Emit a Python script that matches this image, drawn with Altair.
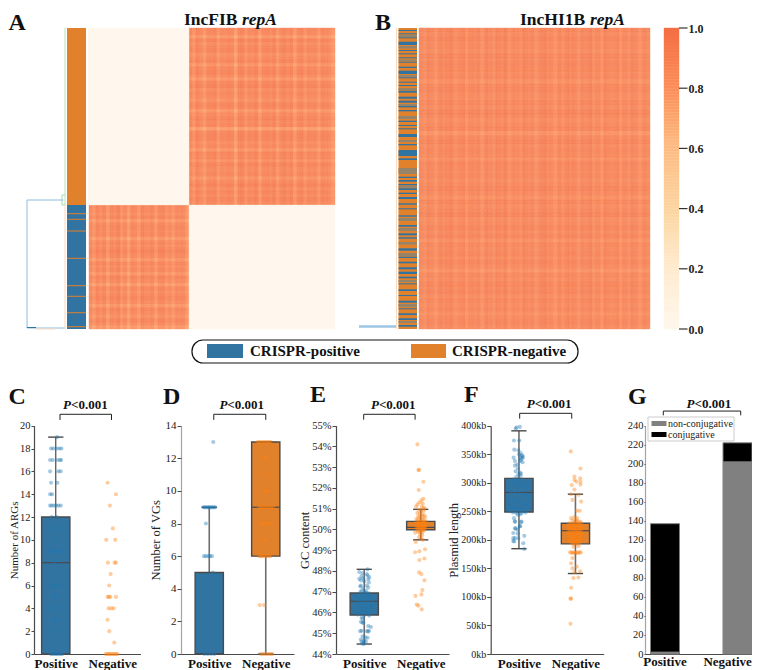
import altair as alt
import pandas as pd

W, H = 744, 662
SERIF = "Liberation Serif"
BLUE, ORANGE = "#3274a1", "#e1812c"
PT_BLUE, PT_ORANGE = "#1f77b4", "#ff7f0e"
EDGE = "#4a4a4a"
HEAT_DOMAIN = [0, 0.2, 0.4, 0.6, 0.8, 1.0]
HEAT_RANGE = ["#fff7ec", "#feebcf", "#fdd49e", "#fdbb84", "#fc8d59", "#f46d43"]
HEAT_SCALE = alt.Scale(domain=HEAT_DOMAIN, range=HEAT_RANGE, zero=False, nice=False)

# ---------- heatmap A band strengths ----------
A_rows_top = [.97,.95,.86,.98,.93,.96,.99,.90,.95,.97,.88,.96,.98,.94,.86,.97,.99,.93,.96,.95,.89,.98,.96,.86,.94,
              .98,.95,.97,.82,.96,.99,.97,.93,.95,.87,.97,.96,.90,.98,.95,.94,.97,.88,.96,.99,.94,.97,.95,.98,.96]
A_cols_right = [.96,.88,.98,.94,.85,.97,.95,.99,.86,.96,.93,.98,.95,.82,.97,.99,.88,.96,.94,.98,.84,.95,
                .97,.93,.99,.86,.96,.98,.94,.97,.85,.95,.99,.88,.97,.94,.96,.86,.98,.95,.93,.85]
A_rows_bottom = [.98,.96,.93,.97,.87,.95,.98,.94,.97,.85,.96,.93,.98,.99,.95,.87,.97,.94,.96,.88,.98,.95,.85,.97,.93,
                 .96,.99,.94,.86,.97,.95,.89,.98,.94,.86]
A_cols_left = [.95,.87,.97,.93,.98,.85,.96,.94,.99,.88,.96,.82,.97,.94,.86,.98,.95,.93,.97,.85,.96,.99,.88,.95,.86,.97,.94,.96,.85]
# ---------- heatmap B band strengths ----------
B_rows = [.97,.95,.98,.94,.96,.93,.97,.95,.98,.96,.94,.97,.90,.96,.98,.95,.93,.97,.94,.98,.96,.93,.95,.97,.88,
          .96,.98,.94,.97,.95,.90,.98,.96,.94,.97,.93,.95,.98,.96,.90,.97,.94,.96,.98,.93,.95,.97,.94,.98,.90,
          .96,.95,.97,.93,.98,.95,.88,.96,.94,.97,.95,.98,.93,.96,.94,.97,.90,.95,.98,.94]
B_cols = [.96,.91,.98,.95,.89,.97,.94,.96,.99,.91,.95,.98,.89,.96,.94,.97,.88,.98,.95,.91,.97,.94,.99,.89,.96,.95,.91,.98,.94,.97,
          .89,.96,.99,.94,.95,.88,.97,.91,.98,.95,.96,.89,.97,.94,.99,.91,.96,.88,.98,.95,.94,.97,.89,.96,.91,.98,.95,.88,.97,.94]
LOW_VALUE = 0.0

# ---------- annotation strips (row spans out of 301 rows) ----------
A_blue_block = (177, 301)
A_orange_lines = [185.7, 191.3, 203, 230.3, 257.7, 268.3, 284.7, 298.7]
B_blue = [(2,3),(5.3,6.3),(9.3,10.3),(13.7,17),(22,23),(25.3,26.3),(29.3,30.3),(33.7,34.7),(38.7,40),(42.7,46),(49.3,50.3),
          (53.7,54.7),(57,58),(62.7,64.7),(68.7,70.7),(72.7,74.7),(78,79.3),(82,83.3),(92.7,94),(97,98),(100.3,101.3),(106,109),
          (116,117.3),(122,128),(130.3,132),(148.7,150),(152,153.7),(156,157.3),(160.3,162),(164.7,166),(169,171),(175.3,176.7),
          (180.3,181.3),(187.3,188.7),(197,198.7),(205.3,207.3),(209.3,210.7),(220.3,222.7),(228.7,230),(233.7,235.3),(239.3,241.3),
          (243.7,246),(248.7,250.3),(255.3,256.3),(261.3,263),(267,268),(272.7,274.7),(280.3,281.3),(285.3,287),(290.3,292),(297,298.7)]
B_mixed = [(7,9),(18,20.5),(31.5,33),(47,49),(60,62),(76,78),(88,91),(112,114),(140,146),
           (158,160),(190,193),(200,203),(214,216.5),(225,228),(252,254),(276,279),(293,295)]

# ---------- box statistics: q1, median, q3, low, high ----------
C_stats = {"Positive": (0, 8, 12, 0, 19), "Negative": (0, 0, 0, 0, 0)}
D_stats = {"Positive": (0, 0, 5, 0, 9), "Negative": (6, 9, 13, 0, 13)}
E_stats = {"Positive": (45.88, 46.54, 46.94, 44.48, 48.08), "Negative": (49.99, 50.1, 50.39, 49.5, 50.97)}
F_stats = {"Positive": (248.8, 283, 307.7, 184.5, 391), "Negative": (193, 216, 229, 141, 280)}

# ---------- jittered points: (horizontal jitter, value) ----------
C_pos = [(4,19),(-14,18),(-7,18),(3,18),(11,18),(17,18),(-17,17),(-9,17),(5,17),(13,17),(16,17),(-17,16),(8,16),(15,16),(-14,15),(5,15),
         (-17,14),(-11,14),(-17,13),(-12,13),(-5,13),(1,13),(8,13),(15,13),(-12,12),(3,12),(-7,11),(8,11),(-2,10),(-17,9),(-9,9),(-2,9),(5,9),(13,9),
         (-2,8),(-12,6),(-2,6),(11,6),(-2,5),(3,5),(-12,4),(-5,4),(3,3),(-7,3),(-2,2),(-15,0),(-10,0),(-5,0),(0,0),(5,0),(10,0),(15,0),(20,0)]
C_neg = [(-14,15),(11,14),(-7,13),(2,11),(-18,10),(9,10),(-13,8),(7,8),(11,8),(-5,7),(-9,6),(-14,5),(-10,5),(-6,5),(11,5),(-11,4),(-3,4),(4,4),
         (-14,3),(-9,2),(6,1),(-20,0),(-16,0),(-12,0),(-8,0),(-4,0),(0,0),(4,0),(8,0),(12,0),(16,0)]
D_pos = [(12,13),(-18,9),(-14,9),(-10,9),(-6,9),(-2,9),(2,9),(6,9),(10,9),(14,9),(18,9),(-10,8),(-16,6),(-10,6),(-3,6),(2,6),(8,6),(11,5),
         (-15,0),(-5,0),(5,0),(15,0)]
D_neg = [(-25,13),(-20,13),(-15,13),(-10,13),(-5,13),(0,13),(5,13),(10,13),(15,13),(1,12),(-5,12),(3,11),(0,10),(6,10),(-20,9),(-14,9),(-8,9),(-2,9),
         (4,9),(10,9),(16,9),(22,9),(-15,8),(-8,8),(2,8),(10,8),(18,8),(0,7),(-20,6),(-15,6),(-10,6),(-4,6),(2,6),(8,6),(14,6),(-18,3),(-5,3),
         (-15,0),(-9,0),(-3,0),(3,0),(9,0),(15,0),(20,0)]
E_pos = [(10,48.08),(-15,47.95),(8,47.85),(-5,47.9),(10,47.78),(15,47.7),(-8,47.75),(-15,47.62),(-10,47.55),(12,47.6),(-3,47.65),(14,47.45),(0,47.5),
         (-10,47.3),(8,47.3),(12,47.2),(-12,47.25),(-3,47.15),(5,47.05),(-8,47.05),(0,46.98),(-12,46.98),(6,46.95),(14,46.92),(-25,46.8),(-15,46.7),
         (-5,46.85),(8,46.78),(18,46.7),(-20,46.6),(-8,46.55),(3,46.6),(12,46.5),(25,46.55),(-18,46.4),(-3,46.4),(9,46.35),(20,46.3),(-25,46.2),
         (-10,46.2),(2,46.15),(14,46.1),(-15,46.0),(-4,46.0),(10,45.95),(-20,45.9),(0,45.88),(15,45.85),(-8,45.75),(-5,45.7),(-10,45.55),(-5,45.5),
         (-3,45.52),(12,45.35),(20,45.3),(-12,45.1),(-8,45.12),(8,45.1),(12,45.08),(14,45.12),(-5,44.85),(3,44.8),(10,44.78),(-10,44.7),(0,44.65),
         (-8,44.6),(-2,44.55),(5,44.6),(-6,44.5),(-1,44.48)]
E_neg = [(-10,54.1),(-7,52.86),(-5,52.88),(8,52.3),(-6,51.9),(8,51.48),(2,51.4),(-4,51.3),(6,51.25),(-10,51.2),(-14,51.1),(3,51.1),(9,51.05),(12,51.0),
         (-5,50.95),(1,50.9),(8,50.88),(-10,50.8),(-3,50.75),(4,50.72),(10,50.68),(-8,50.62),(-2,50.6),(5,50.58),(13,50.6),(-13,50.5),(-7,50.48),(0,50.5),
         (6,50.46),(12,50.44),(-12,50.38),(-6,50.36),(-1,50.38),(4,50.35),(10,50.34),(15,50.36),(-14,50.28),(-8,50.26),(-3,50.27),(2,50.28),(7,50.25),(12,50.24),
         (-11,50.18),(-6,50.16),(-1,50.18),(4,50.16),(9,50.14),(14,50.18),(-13,50.08),(-7,50.07),(-2,50.08),(3,50.06),(8,50.05),(13,50.08),(-10,49.98),(-4,49.97),
         (1,49.98),(6,49.96),(11,49.97),(-8,49.88),(-17,49.85),(0,49.87),(5,49.86),(-2,49.75),(4,49.72),(-5,49.62),(2,49.55),(6,49.5),(-15,49.4),(-4,48.95),(-17,48.9),(13,49.05),
         (-4,48.53),(11,48.6),(-5,47.93),(2,47.85),(11,47.55),(5,47.08),(2,46.87),(-16,46.8),(-12,46.38),(-7,46.33),(3,46.15)]
F_pos = [(-7,397),(3,398),(-10,395),(-15,374),(1,374),(-2,357),(-14,358),(5,352),(0,350),(10,348),(12,345),(8,347),(4,344),(-16,344),(10,343),(6,340),(3,338),
         (11,336),(-12,338),(-5,332),(-12,330),(-3,325),(-10,320),(3,318),(6,316),(-2,315),(5,312),(-8,310),(-15,306),(0,305),(10,305),(-20,300),(-8,298),(8,295),
         (25,292),(-25,285),(-12,283),(3,282),(18,280),(30,275),(-30,270),(-15,268),(0,270),(12,265),(22,262),(-22,258),(-8,256),(6,255),(-2,250),(14,250),(-28,250),
         (-18,248),(-8,247),(8,247),(20,248),(-4,244),(4,245),(-15,238),(8,232),(-12,232),(-12,220),(3,224),(-12,232),(6,231),(-10,220),(3,224),(-5,218),(-17,212),(-4,211),
         (16,207),(-17,203),(-12,203),(-2,203),(-17,198),(13,194),(-14,197),(16,184)]
F_neg = [(-14,355),(15,325),(-3,311),(-3,305),(14,308),(15,302),(3,302),(-11,296),(15,297),(-3,288),(-13,280),(9,279),(17,267),(-9,270),(4,251),(13,251),(-13,238),(-3,240),
         (5,238),(-9,234),(-2,233),(3,234),(8,232),(14,232),(-20,229),(-14,228),(-8,229),(-3,228),(2,229),(7,227),(12,228),(18,229),(-22,224),(-16,222),(-10,223),(-5,222),(0,224),
         (5,222),(10,223),(15,222),(20,224),(-20,218),(-14,217),(-8,218),(-3,217),(2,218),(7,216),(12,217),(18,218),(-24,212),(-18,212),(-12,211),(-6,212),(-1,211),(4,212),(9,210),
         (14,212),(20,211),(-20,206),(-14,205),(-8,206),(-2,205),(3,206),(8,204),(13,205),(18,206),(-18,200),(-12,199),(-6,200),(0,199),(5,200),(11,199),(16,200),(-12,194),(-6,193),
         (0,194),(6,193),(12,194),(9,189),(-6,188),(-16,178),(-12,178),(-8,177),(-4,178),(0,177),(4,178),(8,177),(12,178),(16,178),(-9,168),(-13,159),(4,153),(-9,150),(14,145),(-3,143),
         (-6,133),(9,134),(-13,116),(-15,97),(-13,97),(-15,53)]

# ---------- panel G ----------
G_categories = ["Positive", "Negative"]
G_non_conjugative = [2, 202]
G_conjugative = [135, 20]

# ---------- annotation texts ----------
PANEL_LETTERS = [("A", 8.5, 30), ("B", 375, 30), ("C", 8.5, 404), ("D", 163, 404), ("E", 310, 402), ("F", 464, 402), ("G", 628, 404)]


def q(field, scale, axis=None, ch=alt.X):
    return ch(field + ":Q", scale=scale, axis=axis)


def spans(xs, ys, rows, **mark):
    """rows: dicts with x0,x1,y0,y1,c"""
    return alt.Chart(pd.DataFrame(rows)).mark_rect(**mark).encode(
        x=q("x0", xs), x2=alt.X2("x1:Q"), y=q("y0", ys, ch=alt.Y), y2=alt.Y2("y1:Q"),
        color=alt.Color("c:N", scale=None, legend=None))


def rules(xs, ys, rows, **mark):
    return alt.Chart(pd.DataFrame(rows)).mark_rule(**mark).encode(
        x=q("x0", xs), x2=alt.X2("x1:Q"), y=q("y0", ys, ch=alt.Y), y2=alt.Y2("y1:Q"),
        color=alt.Color("c:N", scale=None, legend=None))


def texts(xs, ys, rows, **mark):
    kw = dict(font=SERIF, baseline="alphabetic", color="#111111")
    kw.update(mark)
    return alt.Chart(pd.DataFrame(rows)).mark_text(**kw).encode(
        x=q("x", xs), y=q("y", ys, ch=alt.Y), text=alt.Text("t:N"))


def r(x0, x1, y0, y1, c):
    return dict(x0=x0, x1=x1, y0=y0, y1=y1, c=c)


def with_axes(layers, xaxis, yaxis):
    """Every layer of a panel carries the same axes so that they merge into one."""
    for l in layers:
        l.encoding.x.axis = xaxis
        l.encoding.y.axis = yaxis
    return alt.layer(*layers)


def box_panel(x0, stats, pos, neg, domain, ticks, title, title_pad, bracket, ptext, label_fmt=None,
              label_size=11, dash=None, whisk="#6e6e6e", whisk_w=1.6, title_size=12.5, y_axis_at=None, tick=4):
    at = y_axis_at if y_axis_at is not None else x0
    xs = alt.Scale(domain=[(at - x0) / 56.5, 2], range=[at - 8, x0 + 113 - 8], nice=False, zero=False)
    ys = alt.Scale(domain=domain, range=[646, 417.7], nice=False, zero=False)
    xaxis = alt.Axis(orient="bottom", values=[0.5, 1.5], labelExpr="datum.value < 1 ? 'Positive' : 'Negative'", ticks=False, grid=False,
                     labelFont=SERIF, labelFontWeight="bold", labelFontSize=13, labelColor="#111111", labelAngle=0,
                     domainColor=EDGE, domainWidth=1.2, labelPadding=3, offset=646 - H, title=None, labelOverlap=False)
    ykw = dict(orient="left", values=ticks, grid=False, labelFont=SERIF, labelFontSize=label_size, labelColor="#222222", domainColor=EDGE, domainWidth=1.2,
               tickColor=EDGE, tickSize=tick, labelPadding=1, offset=-(at - 8), title=title, titleFont=SERIF, titleFontSize=title_size,
               titleFontWeight="normal", titleColor="#222222", titlePadding=title_pad, labelOverlap=False)
    if label_fmt:
        ykw["labelExpr"] = label_fmt
    if dash:
        ykw["domainDash"] = dash
    yaxis = alt.Axis(**ykw)
    centers = {"Positive": 0.5, "Negative": 1.5}
    whisk_rows, cap_rows, box_rows, med_rows = [], [], [], []
    for name, (q1, med, q3, lo, hi) in stats.items():
        c = centers[name]
        if hi > lo:
            whisk_rows.append(r(c, c, lo, hi, whisk))
            cap_rows += [r(c - 0.135, c + 0.135, lo, lo, EDGE), r(c - 0.135, c + 0.135, hi, hi, EDGE)]
            box_rows.append(r(c - 0.25, c + 0.25, q1, q3, BLUE if name == "Positive" else ORANGE))
            med_rows.append(r(c - 0.25, c + 0.25, med, med, EDGE))
    pts = pd.DataFrame(
        [dict(x=0.5 + d / 169.5, v=v, c=PT_BLUE) for d, v in pos] + [dict(x=1.5 + d / 169.5, v=v, c=PT_ORANGE) for d, v in neg])
    scatter = alt.Chart(pts).mark_circle(size=17, opacity=0.4).encode(
        x=q("x", xs), y=alt.Y("v:Q", scale=ys), color=alt.Color("c:N", scale=None, legend=None))
    bx0, bx1, top, low = bracket
    br = rules(xs, ys, [r(bx0, bx1, top, top, "#222222"), r(bx0, bx0, low, top, "#222222"), r(bx1, bx1, low, top, "#222222")], strokeWidth=1)
    split, ytext = ptext
    p1 = texts(xs, ys, [dict(x=split, y=ytext, t="P")], fontStyle="italic", fontWeight="bold", fontSize=13, align="right")
    p2 = texts(xs, ys, [dict(x=split, y=ytext, t="<0.001")], fontWeight="bold", fontSize=13, align="left")
    layers = [rules(xs, ys, whisk_rows, strokeWidth=whisk_w), rules(xs, ys, cap_rows, strokeWidth=1.4),
              spans(xs, ys, box_rows, stroke=EDGE, strokeWidth=1.4), rules(xs, ys, med_rows, strokeWidth=1.2),
              scatter, br, p1, p2]
    return with_axes(layers, xaxis, yaxis)


# ---- heatmap panels ----
def heat_cells(xs, ys, cells, opacity=0.88):
    df = pd.DataFrame(cells)
    return alt.Chart(df).mark_rect(strokeWidth=0.4, opacity=opacity).encode(
        x=q("x0", xs), x2=alt.X2("x1:Q"), y=q("y0", ys, ch=alt.Y), y2=alt.Y2("y1:Q"),
        color=alt.Color("v:Q", scale=HEAT_SCALE, legend=None),
        stroke=alt.Stroke("v:Q", scale=HEAT_SCALE, legend=None))


def grid(rows, cols, rx0, rx1, cx0, cx1):
    out = []
    rh, cw = (rx1 - rx0) / len(rows), (cx1 - cx0) / len(cols)
    for i, a in enumerate(rows):
        for j, b in enumerate(cols):
            out.append(dict(x0=cx0 + j * cw, x1=cx0 + (j + 1) * cw, y0=rx0 + i * rh, y1=rx0 + (i + 1) * rh, v=round(a * b, 3)))
    return out


ROWS = alt.Scale(domain=[0, 301], range=[20, 321], nice=False, zero=False)
# heatmap A
xsA = alt.Scale(domain=[0, 247.5], range=[79.5, 327], nice=False, zero=False)
cellsA = (grid(A_rows_top, A_cols_right, 0, 177, 101.5, 247.5) + grid(A_rows_bottom, A_cols_left, 177, 301, 1.5, 101.5)
          + [dict(x0=0.5, x1=101.5, y0=0, y1=177, v=LOW_VALUE), dict(x0=101.5, x1=247.5, y0=177, y1=301, v=LOW_VALUE)])
heatA = heat_cells(xsA, ROWS, cellsA)
# heatmap B
xsB = alt.Scale(domain=[0, 231], range=[411, 642], nice=False, zero=False)
heatB = heat_cells(xsB, ROWS, grid(B_rows, B_cols, 0, 301, 0, 231))
# strips
stA = alt.Scale(domain=[0, 1], range=[59, 78], nice=False, zero=False)
rowsA = [r(0, 1, 0, A_blue_block[0], ORANGE), r(0, 1, A_blue_block[0], A_blue_block[1], BLUE)] + [r(0, 1, v - 0.5, v + 0.5, ORANGE) for v in A_orange_lines]
stripA = spans(stA, ROWS, rowsA)
stB = alt.Scale(domain=[0, 1], range=[390.5, 409], nice=False, zero=False)
rowsB = [r(0, 1, 0, 301, ORANGE)] + [r(0, 1, a, b, "#95836a") for a, b in B_mixed] + [r(0, 1, a, b, BLUE) for a, b in B_blue]
stripB = spans(stB, ROWS, rowsB)
# dendrograms
dA = alt.Scale(domain=[0, 38], range=[57, 19], nice=False, zero=False)
dendroA = rules(dA, ROWS, [
    r(0, 0, 0, 177, "#b5e2b5"), r(3, 3, 167, 177, "#a5dca5"), r(0, 3, 167, 167, "#a5dca5"), r(0, 3, 177, 177, "#a5dca5"),
    r(38, 38, 172, 300, "#8fbcdd"), r(1.5, 38, 172, 172, "#8fbcdd"), r(0, 38, 300, 300, "#8fbcdd"), r(0, 0, 177, 301, "#fbd9bd"),
    r(29, 38, 299.5, 299.5, "#3274a1"), r(10, 30, 301, 301, "#fbd9bd"),
], strokeWidth=1)
dB = alt.Scale(domain=[0, 38], range=[388.5, 351], nice=False, zero=False)
dendroB = alt.layer(
    rules(dB, ROWS, [r(0, 38, 298.5, 298.5, "#9cc6e4")], strokeWidth=2.4),
    rules(dB, ROWS, [r(0, 0, 0, 301, "#fbd9bd")], strokeWidth=1))
# colour bar
levels = [i / 100 for i in range(100)]
cb_ticks = [0, 0.2, 0.4, 0.6, 0.8, 1.0]
cbx = alt.Scale(domain=[0, 1], range=[656, 671], nice=False, zero=False)
cby = alt.Scale(domain=[0, 1], range=[321, 20], nice=False, zero=False)
cb_axis = alt.Axis(orient="right", values=cb_ticks, format=".1f", offset=671 - W, ticks=False, domain=False,
                   labelFont=SERIF, labelFontWeight="bold", labelFontSize=12, labelColor="#222222", labelPadding=9, grid=False, title=None, labelOverlap=False)
cbar = alt.Chart(pd.DataFrame({"lo": levels, "hi": [l + 0.01 for l in levels], "a": [0] * 100, "b": [1] * 100})).mark_rect(strokeWidth=0.4).encode(
    x=q("a", cbx), x2=alt.X2("b:Q"), y=alt.Y("lo:Q", scale=cby, axis=cb_axis), y2=alt.Y2("hi:Q"),
    color=alt.Color("lo:Q", scale=HEAT_SCALE, legend=None), stroke=alt.Stroke("lo:Q", scale=HEAT_SCALE, legend=None))
# tick marks of the colour bar: a scale of their own, sharing the bar's vertical mapping
cb_tick_x = alt.Scale(domain=[0, 1], range=[671, 679.5], nice=False, zero=False)
cb_tick_marks = rules(cb_tick_x, cby, [r(0, 1, t, t, "#333333") for t in cb_ticks], strokeWidth=1.2)

# box panels
C = box_panel(27.5, C_stats, C_pos, C_neg, [0, 20], list(range(0, 21, 2)), "Number of ARGs", 0, (0.575, 1.487, 21.0, 20.5), (0.77, 21.5), whisk=EDGE, whisk_w=1.2,
              label_size=10.5, title_size=11, y_axis_at=34, tick=3)
D = box_panel(181, D_stats, D_pos, D_neg, [0, 14], list(range(0, 15, 2)), "Number of VGs", 3, (0.58, 1.5, 14.7, 14.36), (0.82, 15.05), dash=[1, 1])
E = box_panel(336, E_stats, E_pos, E_neg, [44, 55], list(range(44, 56)), "GC content", 0, (0.49, 1.40, 55.55, 55.29), (0.76, 55.8), label_fmt="datum.value + '%'", label_size=10.5)
F = box_panel(490.7, F_stats, F_pos, F_neg, [0, 400], list(range(0, 401, 50)), "Plasmid length", 0, (0.513, 1.434, 421.7, 412.3), (0.78, 431), label_fmt="datum.value + 'kb'", label_size=10)

# panel G
gx = alt.Scale(domain=[0, 115], range=[637, 752], nice=False, zero=False)
gy = alt.Scale(domain=[0, 240], range=[646, 417.7], nice=False, zero=False)
g_centers = [20, 92.5]
g_x_axis = alt.Axis(orient="bottom", values=g_centers, labels=False, ticks=False, grid=False, domainColor=EDGE, domainWidth=1.2, offset=646 - H, title=None)
g_y_axis = alt.Axis(orient="left", values=list(range(0, 241, 20)), grid=False, labelFont=SERIF, labelFontSize=10.5, labelColor="#222222", domainColor=EDGE, domainWidth=1.2, domainDash=[1, 1],
                    tickColor=EDGE, tickSize=1, labelPadding=1, offset=-637, title=None, labelOverlap=False)
g_rows = []
for cx, ng, cj in zip(g_centers, G_non_conjugative, G_conjugative):
    g_rows.append(dict(x0=cx - 14.5, x1=cx + 14.5, y0=0, y1=ng, c="#808080"))
    g_rows.append(dict(x0=cx - 14.5, x1=cx + 14.5, y0=ng, y1=ng + cj, c="#000000"))
g_bars = spans(gx, gy, g_rows, stroke="#808080", strokeWidth=1)
g_br = rules(gx, gy, [r(18.3, 95.7, 255.4, 255.4, "#222222"), r(18.3, 18.3, 250.9, 255.4, "#222222"), r(95.7, 95.7, 250.9, 255.4, "#222222")], strokeWidth=1)
g_p1 = texts(gx, gy, [dict(x=49.5, y=258.5, t="P")], fontStyle="italic", fontWeight="bold", fontSize=13, align="right")
g_p2 = texts(gx, gy, [dict(x=49.5, y=258.5, t="<0.001")], fontWeight="bold", fontSize=13, align="left")
g_lab1 = texts(gx, gy, [dict(x=20, y=-12.6, t=G_categories[0])], fontWeight="bold", fontSize=13, align="center")
g_lab2 = texts(gx, gy, [dict(x=106.8, y=-12.6, t=G_categories[1])], fontWeight="bold", fontSize=13, align="right")
G = with_axes([g_bars, g_br, g_p1, g_p2, g_lab1, g_lab2], g_x_axis, g_y_axis)

# figure-level annotations, in figure coordinates
fx = alt.Scale(domain=[8, 8 + W], range=[0, W], nice=False, zero=False)
fy = alt.Scale(domain=[8, 8 + H], range=[0, H], nice=False, zero=False)
letters = texts(fx, fy, [dict(x=a, y=c, t=t) for t, a, c in PANEL_LETTERS], fontWeight="bold", fontSize=24, align="left")
title1 = texts(fx, fy, [dict(x=184, y=24.5, t="IncFIB "), dict(x=520, y=24.5, t="IncHI1B ")], fontWeight="bold", fontSize=17.5, align="left")
title2 = texts(fx, fy, [dict(x=242, y=24.5, t="repA"), dict(x=590, y=24.5, t="repA")], fontWeight="bold", fontStyle="italic", fontSize=17.5, align="left")
legend_box = spans(fx, fy, [r(192, 578, 340, 363, "#ffffff")], stroke="#111111", strokeWidth=1.2, cornerRadius=11)
legend_sw = spans(fx, fy, [r(207, 243, 344, 358, BLUE), r(411, 446, 344, 358, ORANGE)])
legend_tx = texts(fx, fy, [dict(x=250, y=356, t="CRISPR-positive"), dict(x=452, y=356, t="CRISPR-negative")], fontWeight="bold", fontSize=15, align="left")
g_leg_box = spans(fx, fy, [r(648, 734, 417, 441, "#ffffff")], stroke="#cccccc", strokeWidth=1)
g_leg_sw = spans(fx, fy, [r(651.5, 666.5, 421, 426, "#808080"), r(651.5, 666.5, 432, 437, "#000000")])
g_leg_tx = texts(fx, fy, [dict(x=668, y=427, t="non-conjugative"), dict(x=668, y=437.5, t="conjugative")], fontSize=10, align="left", color="#222222")
notes = alt.layer(letters, title1, title2, legend_box, legend_sw, legend_tx, g_leg_box, g_leg_sw, g_leg_tx)

chart = alt.layer(dendroA, stripA, heatA, dendroB, stripB, heatB, cbar, cb_tick_marks, C, D, E, F, G, notes).resolve_scale(
    x="independent", y="independent", color="independent", stroke="independent"
).resolve_axis(x="independent", y="independent").properties(
    width=W, height=H, padding=0, autosize=alt.AutoSizeParams(type="none")
).configure_view(stroke=None)

chart.save("out.html", embed_options={"renderer": "svg", "actions": False})
